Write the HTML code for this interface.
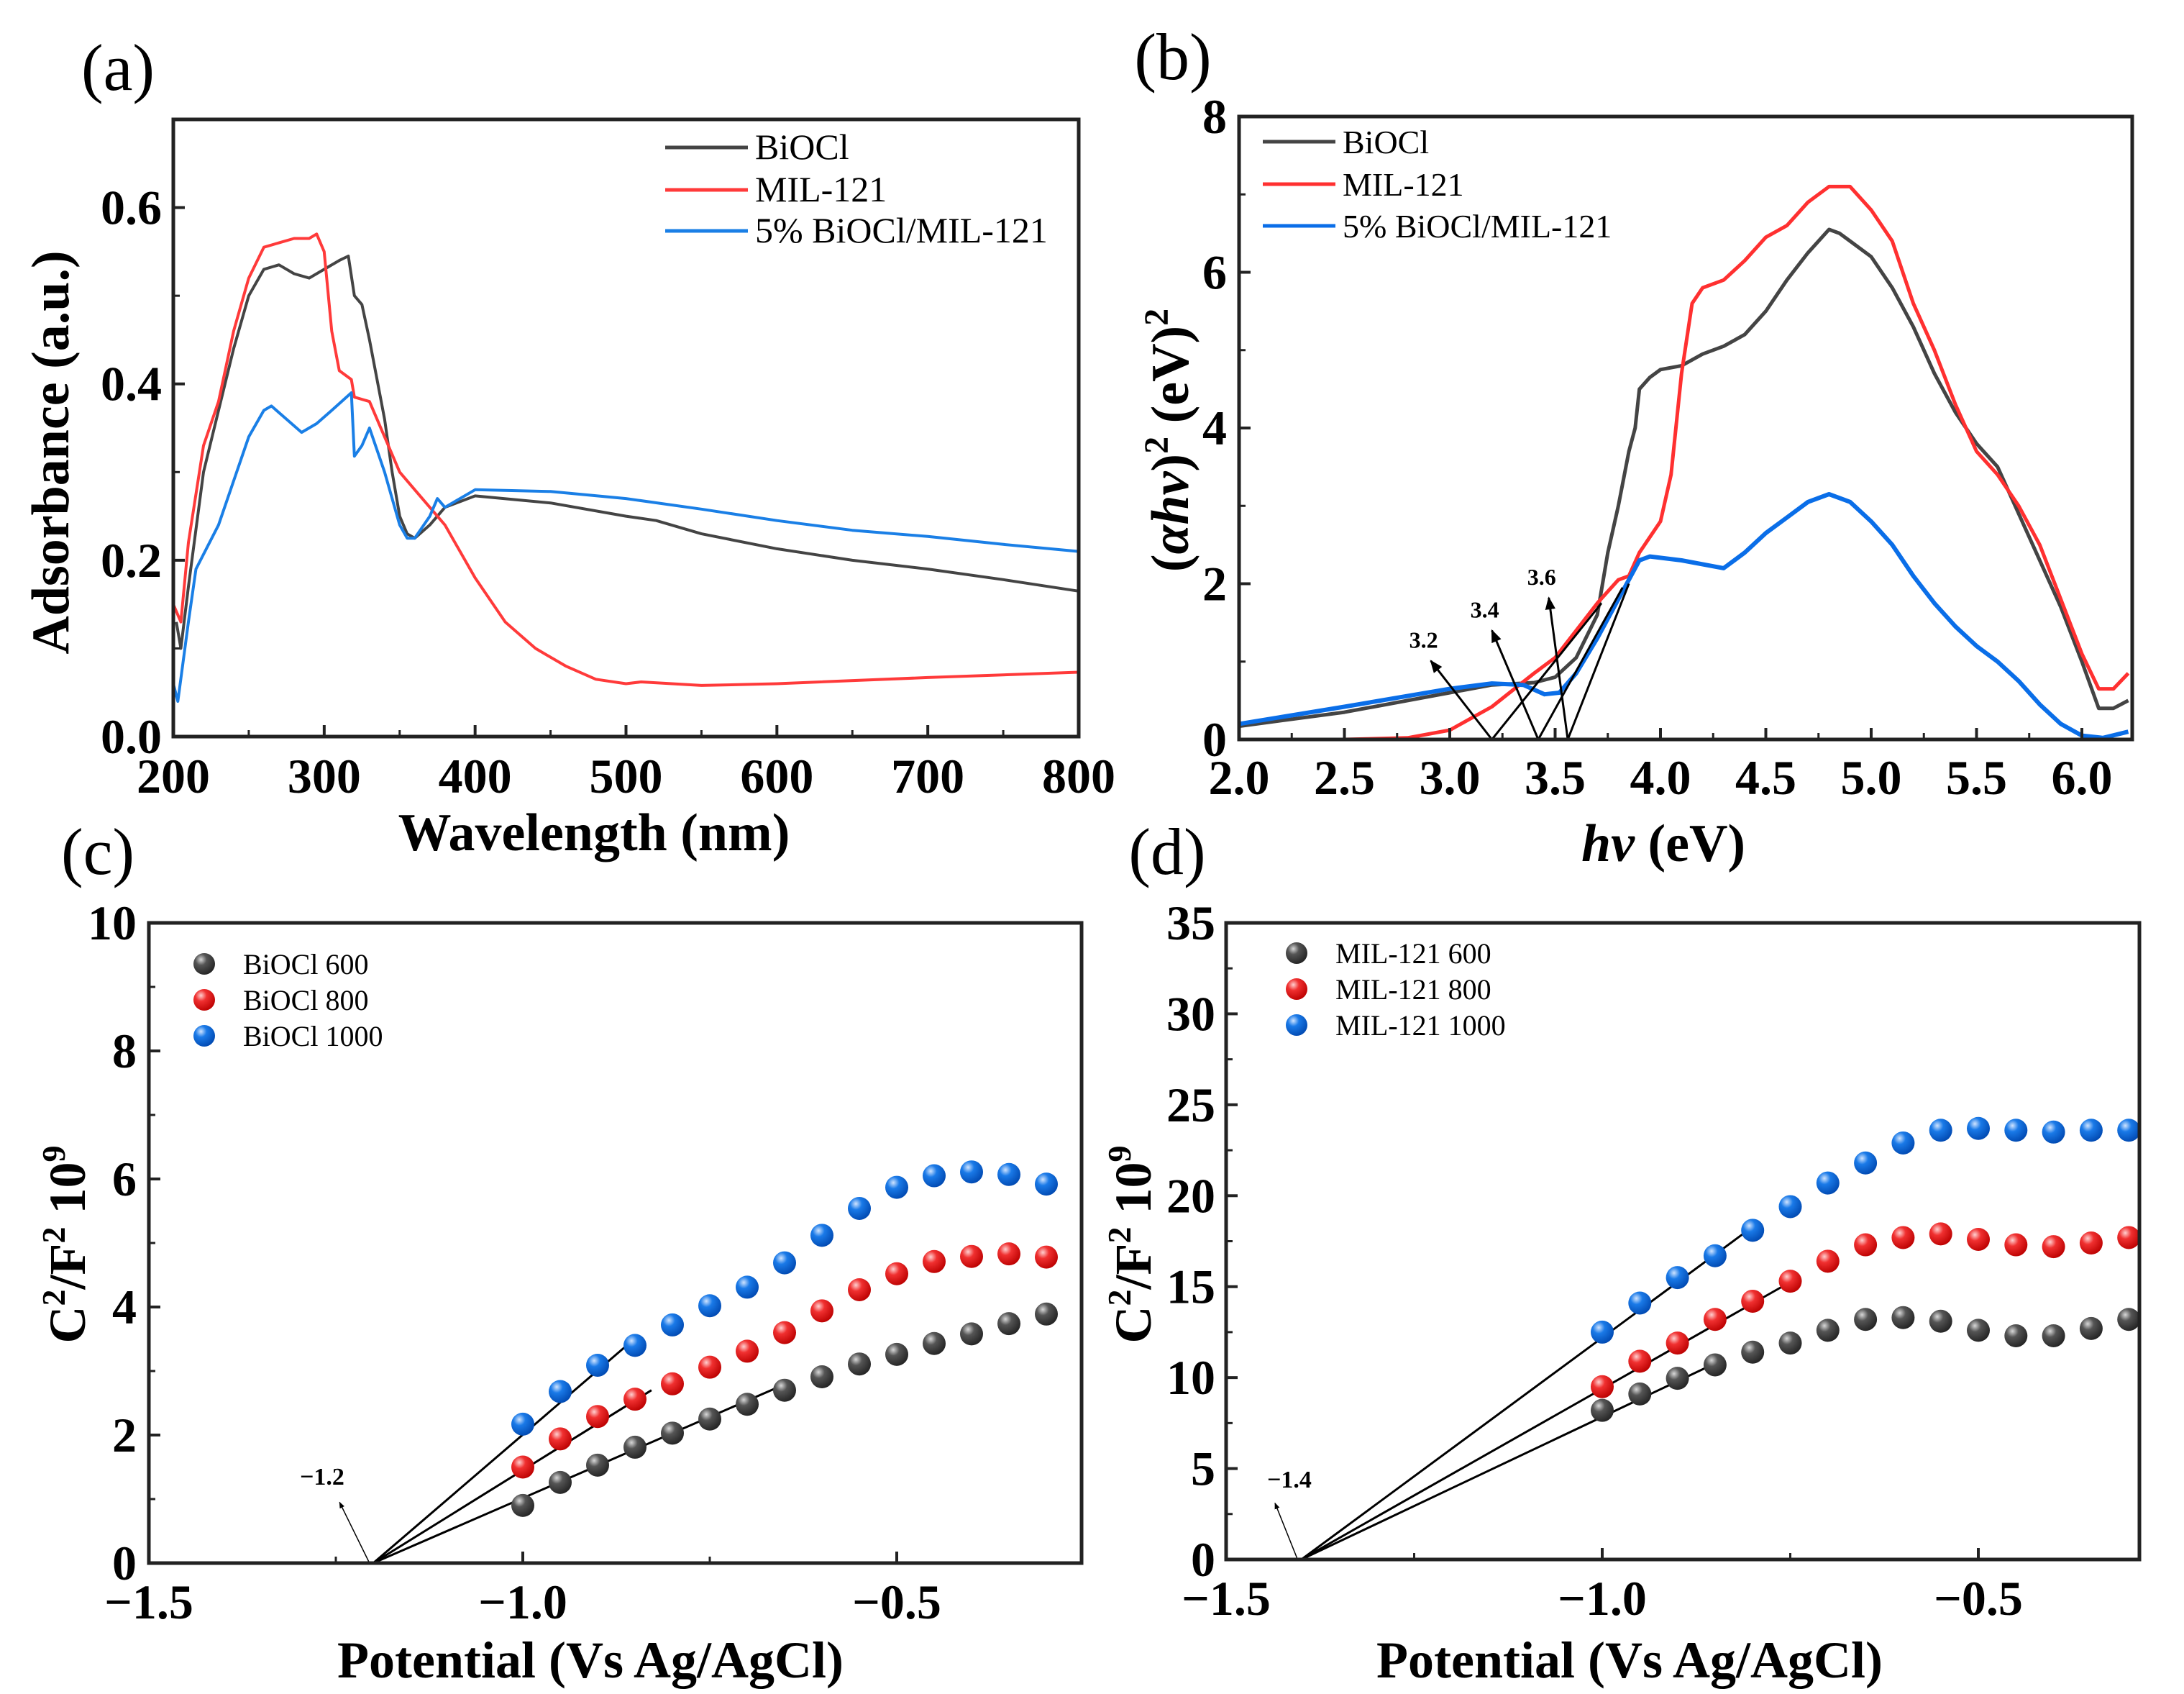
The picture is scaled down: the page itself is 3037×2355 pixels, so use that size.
<!DOCTYPE html>
<html><head><meta charset="utf-8"><style>
html,body{margin:0;padding:0;background:#fff;}
svg{display:block;}
svg text{font-family:"Liberation Serif",serif;}
</style></head><body>
<svg id="fig" xmlns="http://www.w3.org/2000/svg" width="3037" height="2355" viewBox="0 0 3037 2355">
<defs>
<radialGradient id="gGray" cx="0.35" cy="0.3" r="0.75"><stop offset="0" stop-color="#d8d8d8"/><stop offset="0.35" stop-color="#555"/><stop offset="1" stop-color="#222"/></radialGradient>
<radialGradient id="gRed" cx="0.35" cy="0.3" r="0.75"><stop offset="0" stop-color="#ffd0d0"/><stop offset="0.35" stop-color="#f03030"/><stop offset="1" stop-color="#b00"/></radialGradient>
<radialGradient id="gBlue" cx="0.35" cy="0.3" r="0.75"><stop offset="0" stop-color="#d0e4ff"/><stop offset="0.35" stop-color="#1a7ae8"/><stop offset="1" stop-color="#0048b0"/></radialGradient>
<marker id="arr" viewBox="0 0 10 10" refX="9" refY="5" markerWidth="6" markerHeight="6" orient="auto"><path d="M0,1 L10,5 L0,9 z" fill="#000"/></marker>
</defs>
</svg>
<script>
// ---- Panel (a) data ----
const aWl1=[202,205,210,220,230,240,250,260,270,280,290,300,310,316,320,325,330,340,345,350,355,360,370,380,400,450,500,520,550,600,650,700,750,800];
const aBiOCl=[0.13,0.10,0.17,0.30,0.37,0.44,0.50,0.53,0.535,0.525,0.52,0.53,0.54,0.545,0.50,0.49,0.45,0.36,0.30,0.25,0.23,0.225,0.24,0.26,0.273,0.265,0.25,0.245,0.23,0.213,0.20,0.19,0.178,0.165];
const aWl2=[200,205,210,220,230,240,250,260,270,280,290,295,300,305,310,318,320,330,340,350,360,380,400,420,440,460,480,500,510,550,600,700,800];
const aMIL=[0.15,0.13,0.22,0.33,0.38,0.46,0.52,0.555,0.56,0.565,0.565,0.57,0.55,0.46,0.415,0.405,0.385,0.38,0.34,0.30,0.28,0.24,0.18,0.13,0.10,0.08,0.065,0.06,0.062,0.058,0.06,0.067,0.073];
const aWl3=[200,203,210,215,230,240,250,260,265,275,285,295,305,318,320,325,330,340,350,355,360,370,375,380,400,450,500,550,600,650,700,750,800];
const aComp=[0.06,0.04,0.13,0.19,0.24,0.29,0.34,0.37,0.375,0.36,0.345,0.355,0.37,0.39,0.318,0.33,0.35,0.30,0.24,0.225,0.225,0.25,0.27,0.26,0.28,0.278,0.27,0.258,0.245,0.234,0.227,0.218,0.21];
const aXTicks=[200,300,400,500,600,700,800];
const aYTicks=[0.0,0.2,0.4,0.6];
// ---- Panel (b) data ----
const bE1=[2.0,2.5,3.0,3.2,3.4,3.5,3.6,3.7,3.75,3.8,3.85,3.88,3.9,3.95,4.0,4.1,4.2,4.3,4.4,4.5,4.6,4.7,4.8,4.85,4.9,5.0,5.1,5.2,5.3,5.4,5.5,5.6,5.7,5.8,5.9,6.0,6.08,6.15,6.22];
const bBiOCl=[0.17,0.35,0.6,0.7,0.73,0.8,1.05,1.6,2.4,3.0,3.7,4.0,4.5,4.65,4.75,4.8,4.95,5.05,5.2,5.5,5.9,6.25,6.55,6.5,6.4,6.2,5.8,5.3,4.7,4.2,3.8,3.5,2.9,2.3,1.7,1.0,0.4,0.4,0.5];
const bE2=[2.0,2.5,2.8,3.0,3.2,3.4,3.5,3.6,3.7,3.8,3.85,3.9,4.0,4.05,4.1,4.15,4.2,4.3,4.4,4.5,4.6,4.7,4.8,4.9,5.0,5.1,5.2,5.3,5.4,5.5,5.6,5.7,5.8,5.9,6.0,6.08,6.15,6.22];
const bMIL=[0.0,0.0,0.02,0.12,0.42,0.85,1.05,1.4,1.75,2.05,2.1,2.4,2.8,3.4,4.7,5.6,5.8,5.9,6.15,6.45,6.6,6.9,7.1,7.1,6.8,6.4,5.6,5.0,4.3,3.7,3.4,3.0,2.5,1.8,1.1,0.65,0.65,0.85];
const bE3=[2.0,2.5,3.0,3.2,3.35,3.45,3.52,3.6,3.7,3.8,3.9,3.95,4.1,4.3,4.4,4.5,4.6,4.7,4.8,4.9,5.0,5.1,5.2,5.3,5.4,5.5,5.6,5.7,5.8,5.9,6.0,6.1,6.22];
const bComp=[0.2,0.42,0.65,0.72,0.7,0.58,0.6,0.85,1.3,1.8,2.3,2.35,2.3,2.2,2.4,2.65,2.85,3.05,3.15,3.05,2.8,2.5,2.1,1.75,1.45,1.2,1.0,0.75,0.45,0.2,0.05,0.02,0.1];
const bXTicks=[2.0,2.5,3.0,3.5,4.0,4.5,5.0,5.5,6.0];
const bYTicks=[0,2,4,6,8];
const bIntercepts=[3.2,3.42,3.56];
const bTangentEnds=[[3.72,1.75],[3.82,1.95],[3.85,2.0]];
const bArrowLabels=["3.2","3.4","3.6"];
const bArrowTails=[[2.91,1.01],[3.2,1.4],[3.47,1.82]];
// ---- Panel (c) data ----
const cPot=[-1.0,-0.95,-0.9,-0.85,-0.8,-0.75,-0.7,-0.65,-0.6,-0.55,-0.5,-0.45,-0.4,-0.35,-0.3];
const c600=[0.9,1.26,1.53,1.81,2.03,2.25,2.48,2.7,2.91,3.11,3.26,3.43,3.58,3.74,3.89];
const c800=[1.5,1.94,2.29,2.56,2.8,3.06,3.31,3.6,3.94,4.27,4.52,4.71,4.79,4.83,4.78];
const c1000=[2.17,2.68,3.09,3.4,3.72,4.02,4.31,4.69,5.12,5.54,5.87,6.05,6.11,6.07,5.92];
const cFitEnds=[[-0.66,2.74],[-0.828,2.7],[-0.852,3.49]];
const cXTicks=[-1.5,-1.0,-0.5];
const cYTicks=[0,2,4,6,8,10];
// ---- Panel (d) data ----
const dPot=[-1.0,-0.95,-0.9,-0.85,-0.8,-0.75,-0.7,-0.65,-0.6,-0.55,-0.5,-0.45,-0.4,-0.35,-0.3];
const d600=[8.2,9.1,9.96,10.7,11.4,11.9,12.6,13.2,13.3,13.1,12.6,12.3,12.3,12.7,13.2];
const d800=[9.5,10.9,11.9,13.2,14.2,15.3,16.4,17.3,17.7,17.9,17.6,17.3,17.2,17.4,17.7];
const d1000=[12.5,14.1,15.5,16.7,18.1,19.4,20.7,21.8,22.9,23.6,23.7,23.6,23.5,23.6,23.6];
const dFitEnds=[[-0.849,10.8],[-0.748,15.3],[-0.803,18.2]];
const dXTicks=[-1.5,-1.0,-0.5];
const dYTicks=[0,5,10,15,20,25,30,35];

const NS="http://www.w3.org/2000/svg";
const svg=document.getElementById('fig');
function mk(tag,attrs,parent){const e=document.createElementNS(NS,tag);for(const k in attrs)e.setAttribute(k,attrs[k]);(parent||svg).appendChild(e);return e;}
function scale(d0,d1,p0,p1){return v=>p0+(v-d0)*(p1-p0)/(d1-d0);}
function fmtMinus(v,dec){const s=Math.abs(v).toFixed(dec);return (v<0?"\u2212":"")+s;}

function frame(g,L,T,R,B){
  const r=mk('rect',{x:L,y:T,width:R-L,height:B-T,fill:'none',stroke:'#222',"stroke-width":5},g);
  
  
}
function xTicks(g,ticks,sx,B,labY,dec,minor){
  ticks.forEach(t=>{
    const l=mk('line',{x1:sx(t),x2:sx(t),y1:B,y2:B-16,stroke:'#222',"stroke-width":4},g);
    
    
    const tx=mk('text',{x:sx(t),y:labY,"text-anchor":"middle","font-size":68,"font-weight":"bold","font-family":"Liberation Serif, serif"},g);
    
    
    tx.textContent=fmtMinus(t,dec);
  });
  (minor||[]).forEach(t=>{
    const l=mk('line',{x1:sx(t),x2:sx(t),y1:B,y2:B-9,stroke:'#222',"stroke-width":3},g);
    
    
  });
}
function yTicks(g,ticks,sy,L,labX,dec,minor){
  ticks.forEach(t=>{
    const l=mk('line',{x1:L,x2:L+16,y1:sy(t),y2:sy(t),stroke:'#222',"stroke-width":4},g);
    
    
    const tx=mk('text',{x:labX,y:sy(t)+23,"text-anchor":"end","font-size":68,"font-weight":"bold","font-family":"Liberation Serif, serif"},g);
    
    
    tx.textContent=t.toFixed(dec);
  });
  (minor||[]).forEach(t=>{
    const l=mk('line',{x1:L,x2:L+9,y1:sy(t),y2:sy(t),stroke:'#222',"stroke-width":3},g);
    
    
  });
}
function curve(g,xs,ys,sx,sy,color,name,w){
  const d=xs.map((x,i)=>(i?'L':'M')+sx(x).toFixed(1)+','+sy(ys[i]).toFixed(1)).join(' ');
  const p=mk('path',{d:d,fill:'none',stroke:color,"stroke-width":w||4,"stroke-linejoin":"round"},g);
  
  
}
function txt(g,x,y,s,attrs,name){
  const t=mk('text',Object.assign({x:x,y:y,"font-family":"Liberation Serif, serif"},attrs),g);
  
  
  t.textContent=s;return t;
}
function legendLine(g,x1,x2,y,color,label,name,fs){
  const l=mk('line',{x1:x1,x2:x2,y1:y,y2:y,stroke:color,"stroke-width":5},g);
  
  
  txt(g,x2+10,y+16,label,{"font-size":fs||50},name+'-label');
}
function dots(g,xs,ys,sx,sy,grad,name){
  xs.forEach((x,i)=>{
    const c=mk('circle',{cx:sx(x),cy:sy(ys[i]),r:16,fill:'url(#'+grad+')'},g);
    
    
  });
}
function seg(g,x1,y1,x2,y2,w,name,marker){
  const l=mk('line',{x1:x1,y1:y1,x2:x2,y2:y2,stroke:'#000',"stroke-width":w},g);
  if(marker)l.setAttribute('marker-end','url(#arr)');
  
  
}

// ===== Panel (a) =====
(function(){
  const g=mk('g',{});
  
  
  const L=241,R=1500,T=166,B=1024;
  const sx=scale(200,800,L,R), sy=scale(0,0.7,B,T);
  txt(g,164,125,"(a)",{"font-size":92,"text-anchor":"middle"},'panel-label-a');
  curve(g,aWl1,aBiOCl,sx,sy,'#444','biocl-line');
  curve(g,aWl2,aMIL,sx,sy,'#ff3a3a','mil121-line');
  curve(g,aWl3,aComp,sx,sy,'#1a7fe6','composite-line');
  frame(g,L,T,R,B);
  xTicks(g,aXTicks,sx,B,1102,0,[250,350,450,550,650,750]);
  yTicks(g,aYTicks,sy,L,225,1,[0.1,0.3,0.5,0.7]);
  txt(g,826,1182,"Wavelength (nm)",{"font-size":74,"font-weight":"bold","text-anchor":"middle"},'x-axis-title-a');
  txt(g,0,0,"Adsorbance (a.u.)",{"font-size":74,"font-weight":"bold","text-anchor":"middle",transform:"translate(95,629) rotate(-90)"},'y-axis-title-a');
  legendLine(g,925,1040,205,'#444',"BiOCl",'legend-biocl');
  legendLine(g,925,1040,264,'#ff3a3a',"MIL-121",'legend-mil121');
  legendLine(g,925,1040,321,'#1a7fe6',"5% BiOCl/MIL-121",'legend-composite');
})();

// ===== Panel (b) =====
(function(){
  const g=mk('g',{});
  
  
  const L=1723,R=2965,T=162,B=1028;
  const sx=scale(2,6,L,2895), sy=scale(0,8,B,T);
  txt(g,1631,110,"(b)",{"font-size":92,"text-anchor":"middle"},'panel-label-b');
  curve(g,bE1,bBiOCl,sx,sy,'#444','biocl-line',5);
  curve(g,bE2,bMIL,sx,sy,'#ff3030','mil121-line',5);
  curve(g,bE3,bComp,sx,sy,'#0a6ee8','composite-line',6);
  bIntercepts.forEach((x0,i)=>{
    seg(g,sx(x0),sy(0),sx(bTangentEnds[i][0]),sy(bTangentEnds[i][1]),3,'tangent-line');
    seg(g,sx(x0),sy(0),sx(bArrowTails[i][0]),sy(bArrowTails[i][1]),3,'bandgap-arrow',true);
    txt(g,sx(bArrowTails[i][0])-10,sy(bArrowTails[i][1])-18,bArrowLabels[i],{"font-size":32,"font-weight":"bold","text-anchor":"middle"},'bandgap-label');
  });
  frame(g,L,T,R,B);
  xTicks(g,bXTicks,sx,B,1104,1,[2.25,2.75,3.25,3.75,4.25,4.75,5.25,5.75]);
  yTicks(g,bYTicks,sy,L,1706,0,[1,3,5,7]);
  const xt=txt(g,2313,1197,"",{"font-size":74,"font-weight":"bold","text-anchor":"middle"},'x-axis-title-b');
  xt.innerHTML='<tspan font-style="italic">hν</tspan> (eV)';
  const yt=txt(g,0,0,"",{"font-size":74,"font-weight":"bold","text-anchor":"middle",transform:"translate(1652,612) rotate(-90)"},'y-axis-title-b');
  yt.innerHTML='(<tspan font-style="italic">αhν</tspan>)<tspan dy="-28" font-size="48">2</tspan><tspan dy="28"> (eV)</tspan><tspan dy="-28" font-size="48">2</tspan>';
  legendLine(g,1756,1857,197,'#444',"BiOCl",'legend-biocl',46);
  legendLine(g,1756,1857,256,'#ff3030',"MIL-121",'legend-mil121',46);
  legendLine(g,1756,1857,314,'#0a6ee8',"5% BiOCl/MIL-121",'legend-composite',46);
})();

// ===== Panel (c) =====
(function(){
  const g=mk('g',{});
  
  
  const L=207,R=1504,T=1283,B=2173;
  const sx=scale(-1.5,-1.0,L,727), sy=scale(0,10,B,T);
  txt(g,136,1215,"(c)",{"font-size":92,"text-anchor":"middle"},'panel-label-c');
  cFitEnds.forEach(e=>seg(g,sx(-1.2),sy(0),sx(e[0]),sy(e[1]),3,'fit-line'));
  seg(g,sx(-1.205),sy(0),sx(-1.245),sy(0.95),1.5,'intercept-arrow',true);
  txt(g,448,2064,"\u22121.2",{"font-size":34,"font-weight":"bold","text-anchor":"middle"},'intercept-label');
  dots(g,cPot,c600,sx,sy,'gGray','point-biocl-600');
  dots(g,cPot,c800,sx,sy,'gRed','point-biocl-800');
  dots(g,cPot,c1000,sx,sy,'gBlue','point-biocl-1000');
  frame(g,L,T,R,B);
  xTicks(g,cXTicks,sx,B,2250,1,[-1.25,-0.75]);
  yTicks(g,cYTicks,sy,L,190,0,[1,3,5,7,9]);
  txt(g,821,2332,"Potential (Vs Ag/AgCl)",{"font-size":72,"font-weight":"bold","text-anchor":"middle"},'x-axis-title-c');
  const yt=txt(g,0,0,"",{"font-size":72,"font-weight":"bold","text-anchor":"middle",transform:"translate(118,1730) rotate(-90)"},'y-axis-title-c');
  yt.innerHTML='C<tspan dy="-28" font-size="46">2</tspan><tspan dy="28">/F</tspan><tspan dy="-28" font-size="46">2</tspan><tspan dy="28"> 10</tspan><tspan dy="-28" font-size="46">9</tspan>';
  [['gGray','BiOCl 600',1340],['gRed','BiOCl 800',1390],['gBlue','BiOCl 1000',1440]].forEach((it,i)=>{
    const c=mk('circle',{cx:284,cy:it[2],r:15,fill:'url(#'+it[0]+')'},g);
    
    
    txt(g,338,it[2]+14,it[1],{"font-size":40},'legend-label');
  });
})();

// ===== Panel (d) =====
(function(){
  const g=mk('g',{});
  
  
  const L=1705,R=2975,T=1283,B=2168;
  const sx=scale(-1.5,-1.0,1705,2228), sy=scale(0,35,B,T);
  txt(g,1623,1215,"(d)",{"font-size":92,"text-anchor":"middle"},'panel-label-d');
  dFitEnds.forEach(e=>seg(g,sx(-1.4),sy(0),sx(e[0]),sy(e[1]),3,'fit-line'));
  seg(g,sx(-1.405),sy(0),sx(-1.435),sy(3.1),1.5,'intercept-arrow',true);
  txt(g,1793,2068,"\u22121.4",{"font-size":34,"font-weight":"bold","text-anchor":"middle"},'intercept-label');
  dots(g,dPot,d600,sx,sy,'gGray','point-mil121-600');
  dots(g,dPot,d800,sx,sy,'gRed','point-mil121-800');
  dots(g,dPot,d1000,sx,sy,'gBlue','point-mil121-1000');
  frame(g,L,T,R,B);
  xTicks(g,dXTicks,sx,B,2245,1,[-1.25,-0.75]);
  yTicks(g,dYTicks,sy,L,1690,0,[2.5,7.5,12.5,17.5,22.5,27.5,32.5]);
  txt(g,2266,2332,"Potential (Vs Ag/AgCl)",{"font-size":72,"font-weight":"bold","text-anchor":"middle"},'x-axis-title-d');
  const yt=txt(g,0,0,"",{"font-size":72,"font-weight":"bold","text-anchor":"middle",transform:"translate(1600,1730) rotate(-90)"},'y-axis-title-d');
  yt.innerHTML='C<tspan dy="-28" font-size="46">2</tspan><tspan dy="28">/F</tspan><tspan dy="-28" font-size="46">2</tspan><tspan dy="28"> 10</tspan><tspan dy="-28" font-size="46">9</tspan>';
  [['gGray','MIL-121 600',1325],['gRed','MIL-121 800',1375],['gBlue','MIL-121 1000',1425]].forEach((it,i)=>{
    const c=mk('circle',{cx:1803,cy:it[2],r:15,fill:'url(#'+it[0]+')'},g);
    
    
    txt(g,1857,it[2]+14,it[1],{"font-size":40},'legend-label');
  });
})();
</script>
</body></html>
